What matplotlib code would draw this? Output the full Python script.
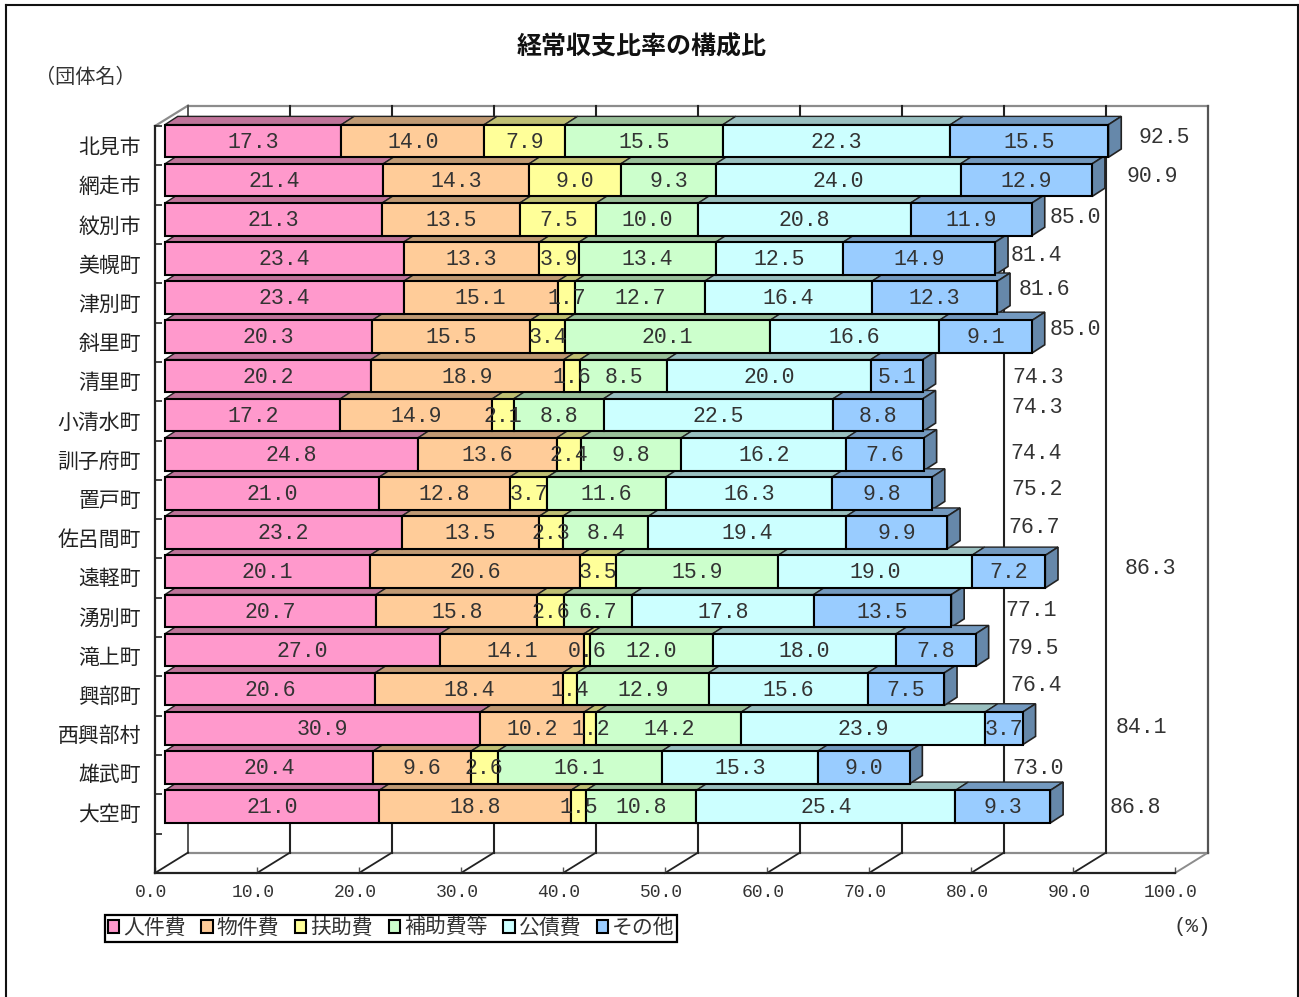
import matplotlib
matplotlib.use("Agg")
import matplotlib.pyplot as plt
from matplotlib.lines import Line2D
from matplotlib.transforms import ScaledTranslation

plt.rcParams["font.family"] = ["Noto Sans CJK JP", "DejaVu Sans"]
NUM_FONT = ["Liberation Mono", "DejaVu Sans Mono"]

# Municipalities, top to bottom.
towns = ["北見市", "網走市", "紋別市", "美幌町", "津別町", "斜里町", "清里町", "小清水町", "訓子府町",
         "置戸町", "佐呂間町", "遠軽町", "湧別町", "滝上町", "興部町", "西興部村", "雄武町", "大空町"]

# Breakdown of the ratio per municipality.
personnel = [17.3, 21.4, 21.3, 23.4, 23.4, 20.3, 20.2, 17.2, 24.8, 21.0, 23.2, 20.1, 20.7, 27.0, 20.6, 30.9, 20.4, 21.0]
goods = [14.0, 14.3, 13.5, 13.3, 15.1, 15.5, 18.9, 14.9, 13.6, 12.8, 13.5, 20.6, 15.8, 14.1, 18.4, 10.2, 9.6, 18.8]
assistance = [7.9, 9.0, 7.5, 3.9, 1.7, 3.4, 1.6, 2.1, 2.4, 3.7, 2.3, 3.5, 2.6, 0.6, 1.4, 1.2, 2.6, 1.5]
subsidies = [15.5, 9.3, 10.0, 13.4, 12.7, 20.1, 8.5, 8.8, 9.8, 11.6, 8.4, 15.9, 6.7, 12.0, 12.9, 14.2, 16.1, 10.8]
debt = [22.3, 24.0, 20.8, 12.5, 16.4, 16.6, 20.0, 22.5, 16.2, 16.3, 19.4, 19.0, 17.8, 18.0, 15.6, 23.9, 15.3, 25.4]
other = [15.5, 12.9, 11.9, 14.9, 12.3, 9.1, 5.1, 8.8, 7.6, 9.8, 9.9, 7.2, 13.5, 7.8, 7.5, 3.7, 9.0, 9.3]
totals = [92.5, 90.9, 85.0, 81.4, 81.6, 85.0, 74.3, 74.3, 74.4, 75.2, 76.7, 86.3, 77.1, 79.5, 76.4, 84.1, 73.0, 86.8]

series = [personnel, goods, assistance, subsidies, debt, other]
series_names = ["人件費", "物件費", "扶助費", "補助費等", "公債費", "その他"]
colors = ["#FF99CC", "#FFCC99", "#FFFF99", "#CCFFCC", "#CCFFFF", "#99CCFF"]
top_colors = ["#BF7399", "#BF9973", "#BFBF73", "#99BF99", "#99BFBF", "#7399BF"]
side_colors = ["#AA6688", "#AA8866", "#AAAA66", "#88AA88", "#88AAAA", "#6688AA"]

# Where the total labels sit: x on the value axis, y shift from the bar centre.
total_x = [98.9, 97.8, 90.2, 86.4, 87.2, 90.2, 86.6, 86.5, 86.4, 86.5, 86.2, 97.6, 85.9, 86.1, 86.4, 96.7, 86.6, 96.1]
total_shift = [-0.10, -0.08, -0.05, -0.08, -0.20, -0.18, 0.03, -0.18, -0.03, -0.10, -0.13, -0.08,
               0.0, -0.03, -0.10, -0.03, 0.03, 0.03]

W, H = 1299, 997
fig = plt.figure(figsize=(W / 100, H / 100), dpi=100)
ax = fig.add_axes([155 / W, 1 - 873 / H, 1020 / W, 747 / H])
ax.set_xlim(0, 100)
ax.set_ylim(19, 0)

# Depth of the box and of the bars, in axis units.
wall_dx, wall_dy = 3.24, -0.52
bar_dx, bar_dy = 1.25, -0.21
bar_start = 0.98
bar_h = 0.83
rows = [i * 0.996 + 0.38 for i in range(len(towns))]

# Back wall, floor and grid.
gray = "#8c8c8c"
ax.plot([wall_dx, 100 + wall_dx], [wall_dy, wall_dy], color=gray, lw=1.6, clip_on=False, zorder=1)
ax.plot([wall_dx, 100 + wall_dx], [19 + wall_dy, 19 + wall_dy], color=gray, lw=1.6, clip_on=False, zorder=1)
ax.plot([0, wall_dx], [0, wall_dy], color=gray, lw=1.6, clip_on=False, zorder=1)
ax.plot([100, 100 + wall_dx], [19, 19 + wall_dy], color=gray, lw=1.4, clip_on=False, zorder=1)
ax.plot([100 + wall_dx] * 2, [wall_dy, 19 + wall_dy], color="#555555", lw=1.6, clip_on=False, zorder=1)
ax.plot([wall_dx] * 2, [wall_dy, 19 + wall_dy], color="#555555", lw=1.4, clip_on=False, zorder=1)
for v in range(10, 100, 10):
    ax.plot([v + wall_dx] * 2, [wall_dy, 19 + wall_dy], color="#222222", lw=1.5, clip_on=False, zorder=1)
for v in range(0, 100, 10):
    ax.plot([v, v + wall_dx], [19, 19 + wall_dy], color="#222222", lw=1.3, clip_on=False, zorder=1)

# Stacked bars with their top and side faces.
handles = []
starts = [bar_start] * len(towns)
for k, values in enumerate(series):
    bars = ax.barh(rows, values, height=bar_h, left=starts, color=colors[k], edgecolor="black",
                   linewidth=1.5, zorder=3, clip_on=False)
    handles.append(bars)
    for i, val in enumerate(values):
        x0 = starts[i]
        x1 = x0 + val
        y_top = rows[i] - bar_h / 2
        y_bot = rows[i] + bar_h / 2
        ax.fill([x0, x1, x1 + bar_dx, x0 + bar_dx], [y_top, y_top, y_top + bar_dy, y_top + bar_dy],
                facecolor=top_colors[k], edgecolor="#222222", linewidth=1.0, zorder=2.5, clip_on=False)
        if k == len(series) - 1:
            ax.fill([x1, x1 + bar_dx, x1 + bar_dx, x1],
                    [y_top, y_top + bar_dy, y_bot + bar_dy, y_bot],
                    facecolor=side_colors[k], edgecolor="#222222", linewidth=1.2, zorder=2.5, clip_on=False)
        ax.text(x0 + val / 2, rows[i] + 0.03, f"{val:.1f}", ha="center", va="center", fontsize=15.5,
                family=NUM_FONT, color="#333333", zorder=5, clip_on=False)
    starts = [s + v for s, v in zip(starts, values)]

# Totals next to the bars.
for i, total in enumerate(totals):
    ax.text(total_x[i], rows[i] + total_shift[i], f"{total:.1f}", ha="center", va="center",
            fontsize=15.5, family=NUM_FONT, color="#333333", zorder=5)

# Axes.
for side in ["top", "right"]:
    ax.spines[side].set_visible(False)
for side in ["left", "bottom"]:
    ax.spines[side].set_linewidth(1.6)
    ax.spines[side].set_color("#222222")

ax.set_xticks(range(0, 101, 10))
ax.set_xticklabels([f"{v:.1f}" for v in range(0, 101, 10)], fontsize=13, family=NUM_FONT, color="#333333")
ax.tick_params(axis="x", direction="in", length=4, width=1, color="#555555", pad=8)
for label in ax.get_xticklabels():
    label.set_transform(label.get_transform() + ScaledTranslation(-4 / 100, 0, fig.dpi_scale_trans))

ax.set_yticks(range(0, 20))
ax.set_yticklabels([])
ax.tick_params(axis="y", which="major", direction="in", length=5, width=1.2, color="#222222")
ax.set_yticks([i * 0.997 + 0.5 for i in range(len(towns))], minor=True)
ax.set_yticklabels(towns, minor=True, fontsize=15, color="#222222")
ax.tick_params(axis="y", which="minor", length=0, pad=10)

# Titles and unit notes.
fig.text(642 / W, 1 - 47 / H, "経常収支比率の構成比", ha="center", va="center", fontsize=18, color="#111111",
         fontweight="bold")
fig.text(85 / W, 1 - 77 / H, "（団体名）", ha="center", va="center", fontsize=14.5, color="#333333")
fig.text(1192 / W, 1 - 926 / H, "(%)", ha="center", va="center", fontsize=15, family=NUM_FONT, color="#333333")

# Legend box below the axis.
leg = fig.legend(handles, series_names, ncols=6, loc="center left", bbox_to_anchor=(105 / W, 1 - 928 / H),
                 fontsize=15, frameon=True, fancybox=False, edgecolor="black", framealpha=1,
                 handlelength=0.55, handleheight=0.55, handletextpad=0.2, columnspacing=0.74,
                 borderpad=0.12, borderaxespad=0, labelcolor="#333333")
leg.get_frame().set_linewidth(1.6)

# Outer frame of the sheet.
frame = [([6 / W, 6 / W], [0, 1 - 5 / H]), ([6 / W, 1298 / W], [1 - 5 / H, 1 - 5 / H]),
         ([1298 / W, 1298 / W], [0, 1 - 5 / H])]
for fx, fy in frame:
    fig.add_artist(Line2D(fx, fy, color="#111111", lw=1.5))

fig.savefig("out.png", dpi=100)
